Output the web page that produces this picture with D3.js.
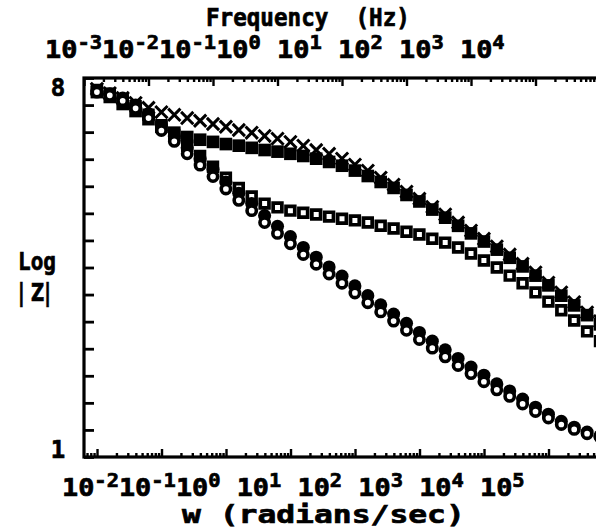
<!DOCTYPE html>
<html><head><meta charset="utf-8">
<script src="https://cdn.jsdelivr.net/npm/d3@7"></script>
<style>body{margin:0;background:#fff}svg{display:block}text{font-family:"DejaVu Sans Mono",monospace;font-weight:bold;fill:#000;stroke:#000;stroke-width:0.7px}</style>
</head><body><svg id="c" width="596" height="528"></svg>
<script>
// ---- data: log10(frequency in Hz) and log|Z| per series ----
const logFreqHz = [-2.8,-2.6,-2.4,-2.2,-2.0,-1.8,-1.6,-1.4,-1.2,-1.0,-0.8,-0.6,-0.4,-0.2,0.0,0.2,0.4,0.6,0.8,1.0,
                   1.2,1.4,1.6,1.8,2.0,2.2,2.4,2.6,2.8,3.0,3.2,3.4,3.6,3.8,4.0,4.2,4.4,4.6,4.8,5.0];
const crossLogZ = [7.80,7.72,7.63,7.54,7.45,7.37,7.32,7.26,7.21,7.15,7.10,7.04,6.99,6.93,6.88,6.82,6.75,6.67,6.60,6.51,
                   6.40,6.29,6.16,6.03,5.90,5.77,5.62,5.48,5.33,5.18,5.03,4.89,4.74,4.57,4.41,4.22,4.04,3.86,3.67,3.51];
const filledSquareLogZ = [7.74,7.65,7.52,7.39,7.24,7.10,6.99,6.91,6.86,6.82,6.78,6.75,6.71,6.67,6.64,6.60,6.56,6.51,6.45,6.38,
                   6.29,6.19,6.08,5.97,5.84,5.72,5.57,5.42,5.27,5.13,4.98,4.83,4.68,4.52,4.35,4.17,3.98,3.80,3.62,3.45];
const openSquareLogZ = [7.78,7.71,7.61,7.48,7.32,7.13,6.95,6.75,6.56,6.36,6.16,5.97,5.81,5.68,5.61,5.55,5.51,5.48,5.44,5.40,
                   5.37,5.33,5.27,5.22,5.16,5.11,5.03,4.96,4.87,4.76,4.63,4.50,4.35,4.21,4.04,3.87,3.71,3.52,3.32,3.14];
const filledCircleLogZ = [7.76,7.71,7.63,7.50,7.34,7.12,6.93,6.71,6.51,6.31,6.08,5.87,5.68,5.46,5.26,5.07,4.87,4.69,4.51,4.34,
                   4.16,3.98,3.81,3.64,3.47,3.30,3.14,2.98,2.82,2.66,2.51,2.35,2.22,2.07,1.92,1.79,1.66,1.55,1.46,1.39];
const openCircleLogZ = [7.74,7.68,7.58,7.44,7.26,7.03,6.83,6.60,6.39,6.18,5.95,5.74,5.55,5.33,5.13,4.94,4.74,4.56,4.38,4.21,
                   4.03,3.85,3.68,3.51,3.34,3.17,3.01,2.85,2.69,2.54,2.39,2.24,2.12,1.98,1.84,1.72,1.60,1.51,1.43,1.37];
// tick label exponents
const hzExponents = ["-3","-2","-1","0","1","2","3","4"];
const wExponents  = ["-2","-1","0","1","2","3","4","5"];
const yEndLabels = [8, 1];
const yTitleLines = ["Log", "| Z|"];
const topTitle = "Frequency  (Hz)";
const bottomTitle = "w (radians/sec)";

// ---- layout ----
const P = {left: 84, right: 600, top: 78, bottom: 457};
const svg = d3.select("#c");
const xHz = d3.scaleLog().domain([1e-3, 1e5]).range([P.left, P.right]);
const xW  = d3.scaleLog().domain([2*Math.PI*1e-3, 2*Math.PI*1e5]).range([P.left, P.right]);
const y = d3.scaleLinear().domain([1, 8]).range([P.bottom, P.top]);
const isMajor = v => Math.abs(Math.log10(v) - Math.round(Math.log10(v))) < 1e-6;

// bottom axis (rad/s), ticks inward
const wTicks = xW.ticks().filter(v => v >= xW.domain()[0] && v <= xW.domain()[1]);
const gB = svg.append("g").attr("transform", `translate(0,${P.bottom})`)
  .call(d3.axisTop(xW).tickValues(wTicks).tickFormat("").tickSizeOuter(0));
gB.select(".domain").remove();
gB.selectAll(".tick line").attr("y2", d => isMajor(d) ? -8 : -4).attr("stroke", "#000").attr("stroke-width", 2.4);

// top axis (Hz)
const hzTicks = xHz.ticks().filter(v => v >= xHz.domain()[0] && v <= xHz.domain()[1]);
const gT = svg.append("g").attr("transform", `translate(0,${P.top})`)
  .call(d3.axisBottom(xHz).tickValues(hzTicks).tickFormat("").tickSizeOuter(0));
gT.select(".domain").remove();
gT.selectAll(".tick line").attr("y2", d => isMajor(d) ? 8 : 4).attr("stroke", "#000").attr("stroke-width", 2.4);

// left axis
const gL = svg.append("g").attr("transform", `translate(${P.left},0)`)
  .call(d3.axisRight(y).ticks(14).tickFormat("").tickSize(10).tickSizeOuter(0));
gL.select(".domain").remove();
gL.selectAll(".tick line").attr("stroke", "#000").attr("stroke-width", 2.8);

// frame
svg.append("rect").attr("x", P.left).attr("y", P.top).attr("width", P.right - P.left).attr("height", P.bottom - P.top)
  .attr("fill", "none").attr("stroke", "#000").attr("stroke-width", 3.2);

// ---- text helpers ----
function fit(t, x0, width) {
  const bb = t.node().getBBox();
  t.attr("transform", `translate(${x0 - bb.x * width / bb.width},0) scale(${width / bb.width},1)`);
}
function powerLine(exps, x0, baseline, width) {
  const t = svg.append("text").attr("x", 0).attr("y", baseline).style("white-space", "pre");
  exps.forEach((e, i) => {
    const sp = (i > 0 && +exps[i - 1] >= 0) ? " " : "";
    t.append("tspan").attr("font-size", 25).attr("dy", i === 0 ? 0 : 9).text(sp + "10");
    t.append("tspan").attr("font-size", 19).attr("dy", -9).text(e);
  });
  fit(t, x0, width);
}
powerLine(hzExponents, 45, 58, 460);
powerLine(wExponents, 62, 496, 463);

const tt = svg.append("text").attr("y", 26).attr("font-size", 25).style("white-space", "pre").text(topTitle);
fit(tt, 206, 204);
const bt = svg.append("text").attr("y", 523).attr("font-size", 25).style("white-space", "pre").text(bottomTitle);
fit(bt, 182, 283);

svg.selectAll(".yend").data(yEndLabels).join("text").attr("class", "yend")
  .attr("x", 58).attr("text-anchor", "middle").attr("font-size", 24)
  .attr("y", d => d === 8 ? y(d) + 18 : y(d) + 1).text(d => d);
svg.selectAll(".ytitle").data(yTitleLines).join("text").attr("class", "ytitle")
  .attr("font-size", 24).style("white-space", "pre")
  .style("font-family", (d, i) => i === 0 ? null : "'DejaVu Sans', sans-serif")
  .attr("y", (d, i) => 270 + i * 31).text(d => d)
  .each(function(d, i) { fit(d3.select(this), 18, i === 0 ? 38 : 33); });

// ---- marks ----
const pts = vals => logFreqHz.map((f, i) => ({x: xHz(Math.pow(10, f)), y: y(vals[i])}));
const plotG = svg.append("g");
function symbols(vals, type, size, fill, stroke, sw) {
  plotG.append("g").selectAll("path").data(pts(vals)).join("path")
    .attr("transform", d => `translate(${d.x},${d.y})`)
    .attr("d", d3.symbol().type(type).size(size))
    .attr("fill", fill).attr("stroke", stroke).attr("stroke-width", sw);
}
const timesType = d3.symbolTimes || d3.symbolX;
symbols(crossLogZ, timesType, 100, "none", "#000", 3);
symbols(filledSquareLogZ, d3.symbolSquare, 160, "#000", "none", 0);
symbols(openSquareLogZ, d3.symbolSquare, 76, "#fff", "#000", 3.7);
symbols(filledCircleLogZ, d3.symbolCircle, 135, "#000", "none", 0);
symbols(openCircleLogZ, d3.symbolCircle, 68, "#fff", "#000", 3.6);
</script></body></html>
